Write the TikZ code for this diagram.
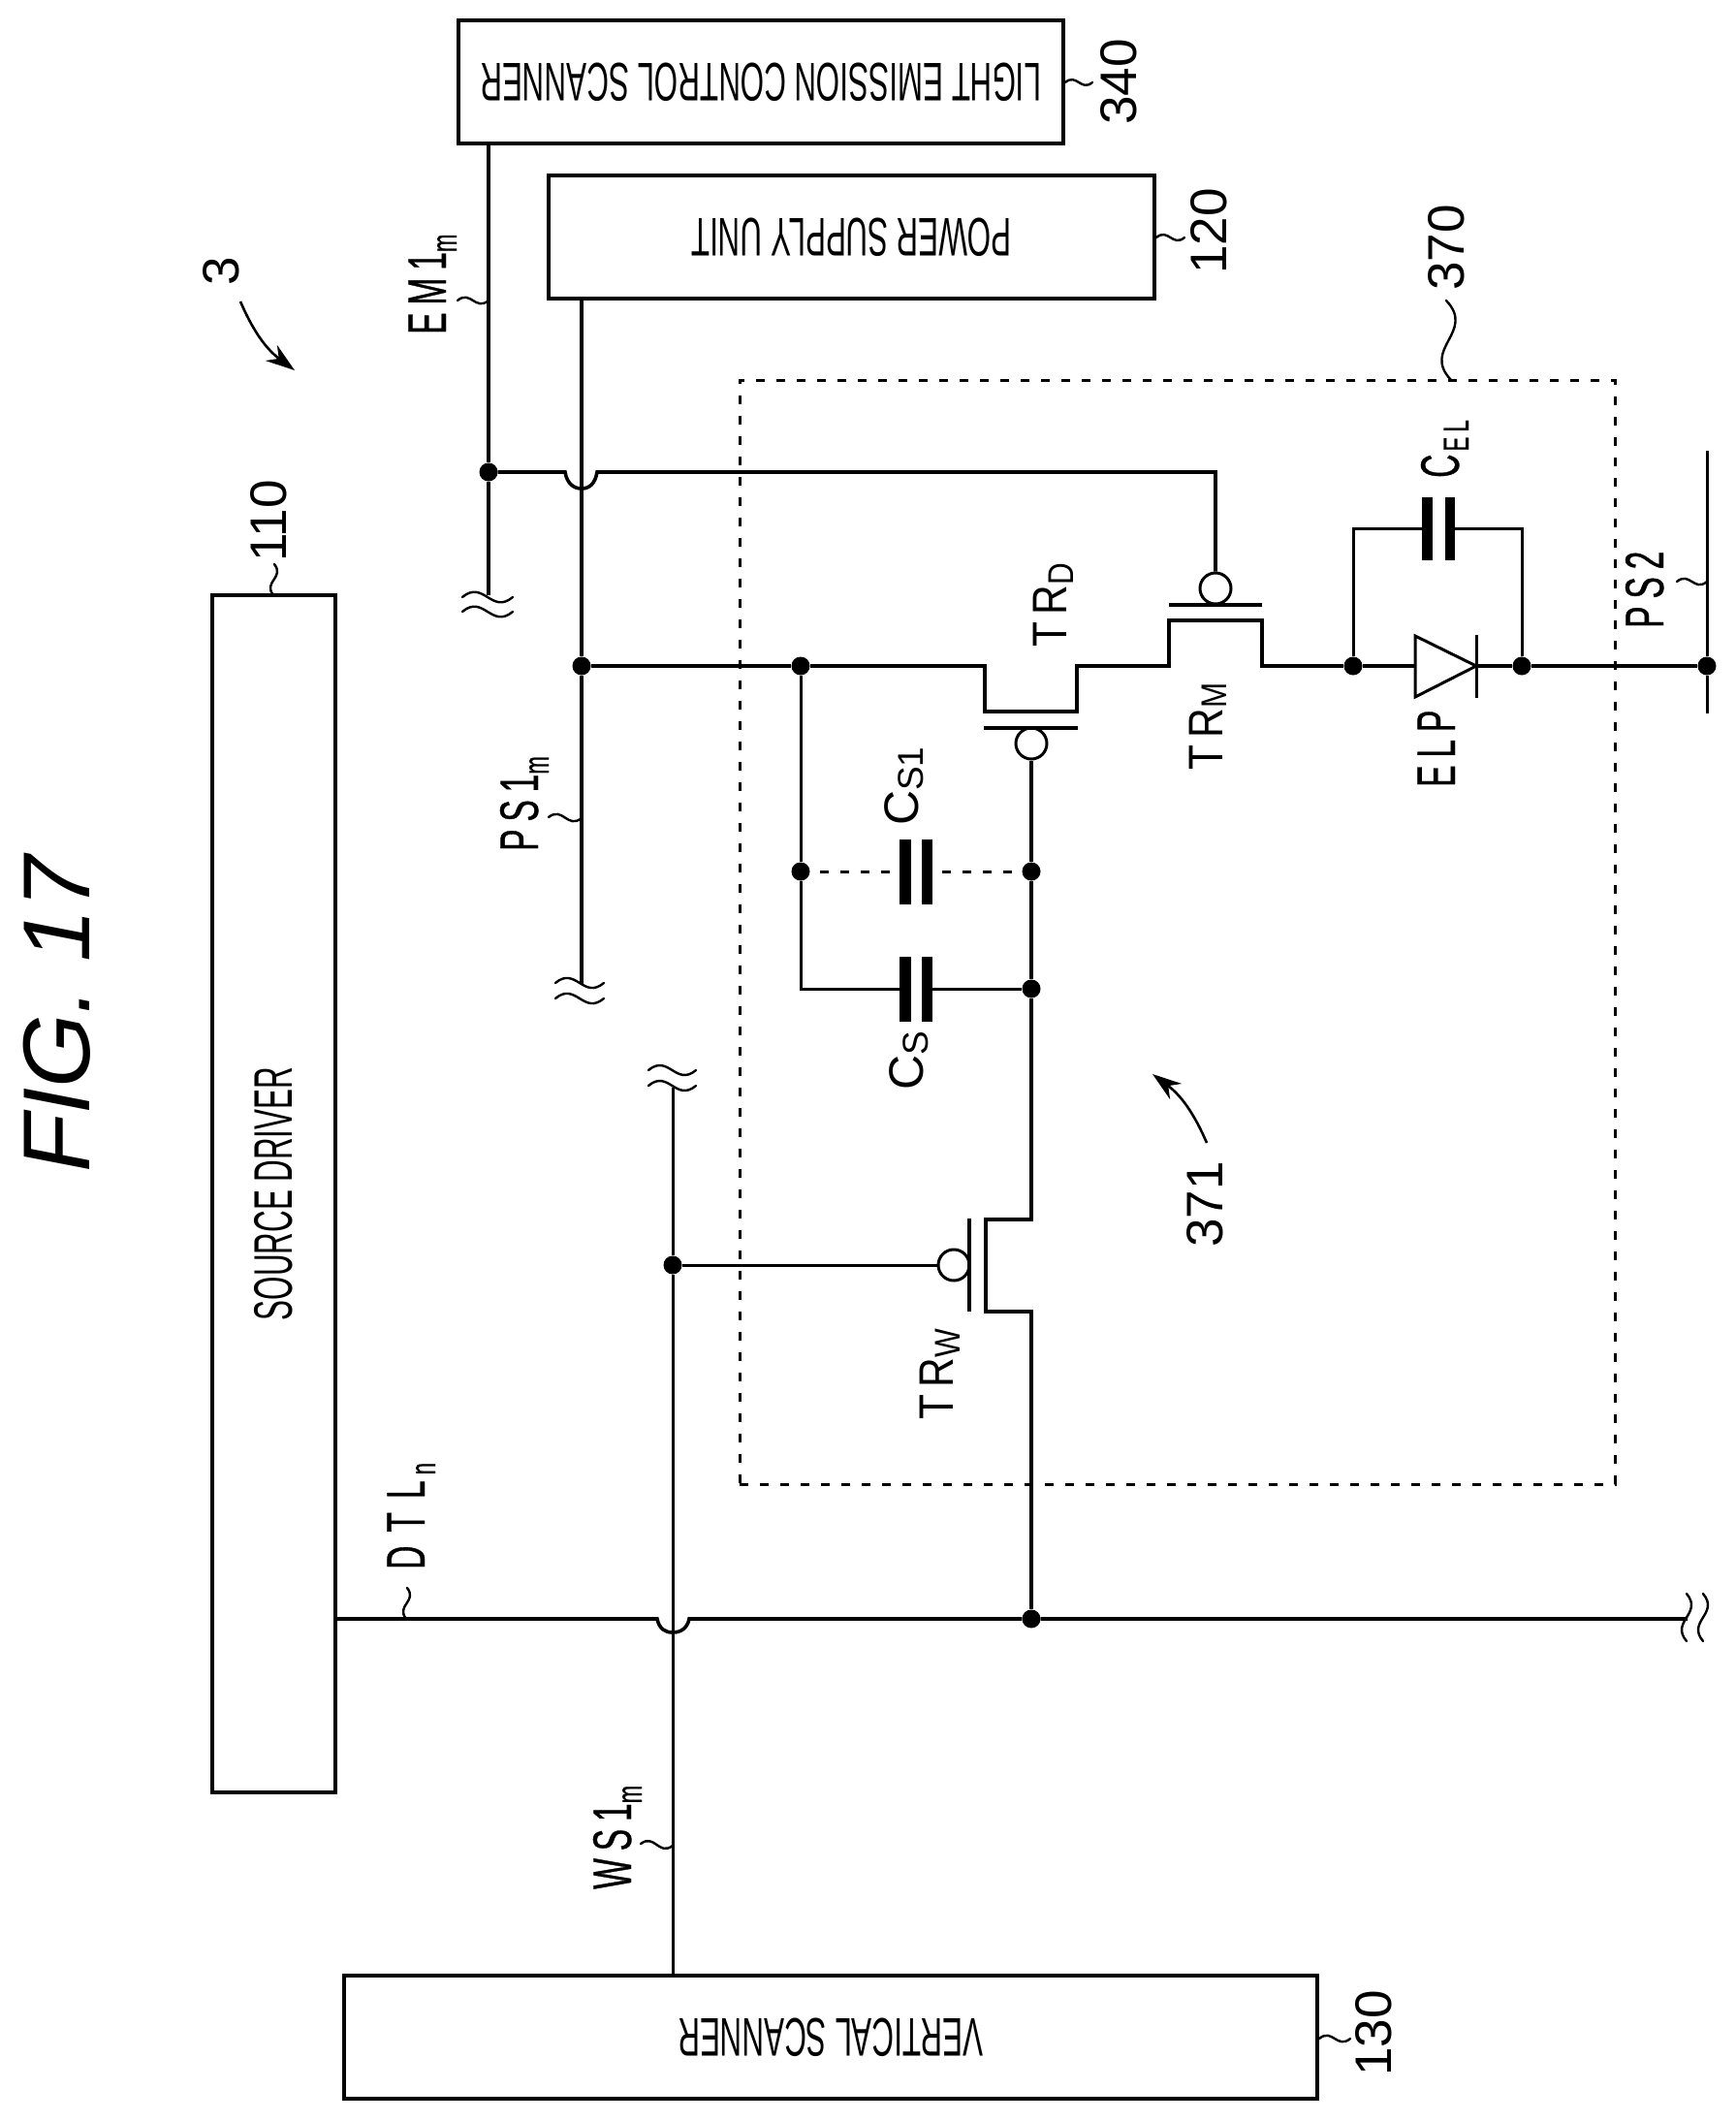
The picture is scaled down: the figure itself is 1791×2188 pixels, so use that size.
\documentclass[tikz,border=0pt]{standalone}
\usepackage{fontspec}
\setmainfont{Liberation Sans}
\newfontfamily\narrowfont[FakeStretch=0.6,LetterSpace=14,FakeBold=0.6]{Liberation Sans}
\newfontfamily\blockfont[FakeStretch=0.56]{Liberation Sans}
\newfontfamily\trfont[FakeStretch=0.85,LetterSpace=15]{Liberation Sans}
\usetikzlibrary{arrows.meta,calc}
\newcommand{\sublbl}[2]{\raisebox{-#1pt}{\fontsize{37}{37}\selectfont #2}}

\begin{document}
\begin{tikzpicture}[x=1pt,y=-1pt,
block/.style={rectangle, draw=black, line width=4pt, inner sep=0pt, font=\blockfont\fontsize{56}{56}\selectfont},
wire/.style={line width=3.6pt, line join=miter},
thinwire/.style={line width=3pt},
dot/.style={circle, fill=black, inner sep=0pt, minimum size=19pt},
bubble/.style={circle, draw=black, fill=white, line width=3pt, inner sep=0pt, minimum size=32pt},
plate/.style={rectangle, fill=black, inner sep=0pt},
leader/.style={line width=2.4pt, line cap=round},
squig/.style={to path={.. controls ($(\tikztostart)!0.55!#1:(\tikztotarget)$) and ($(\tikztotarget)!0.55!#1:(\tikztostart)$) .. (\tikztotarget)}},
squig/.default=40,
numlabel/.style={rotate=90, anchor=base west, inner sep=0pt, font=\fontsize{53}{53}\selectfont},
siglabel/.style={rotate=90, anchor=base west, inner sep=0pt, font=\narrowfont\fontsize{56}{56}\selectfont},
trlabel/.style={rotate=90, anchor=base west, inner sep=0pt, font=\trfont\fontsize{50}{50}\selectfont},
pointer/.style={line width=2.6pt, -{Stealth[length=30pt,width=20pt]}},
]
\useasboundingbox (0,0) rectangle (1791,2188);

% blocks
\node[block, rotate=180, minimum width=624pt, minimum height=127pt](lightbox) at (785,84.5){LIGHT EMISSION CONTROL SCANNER};
\node[block, rotate=180, minimum width=625pt, minimum height=127pt](powerbox) at (878.5,244.5){POWER SUPPLY UNIT};
\node[block, rotate=90, minimum width=1235pt, minimum height=127pt](sourcebox) at (282.5,1231.5){SOURCE DRIVER};
\node[block, rotate=180, minimum width=1004pt, minimum height=127pt](vertbox) at (857,2101.5){VERTICAL SCANNER};

% pixel circuit frame
\node[rectangle, draw=black, line width=3pt, dash pattern=on 9pt off 12pt, inner sep=0pt, minimum width=903pt, minimum height=1139pt](cellbox) at (1214.5,961.5){};

% junctions
\node[dot](emjoin) at (504,487){};
\node[dot](psjoin) at (600,687){};
\node[dot](csjoin) at (826,687){};
\node[dot](csoneleft) at (826,899){};
\node[dot](csoneright) at (1064,899){};
\node[dot](csright) at (1064,1020){};
\node[dot](elpleft) at (1396,687){};
\node[dot](elpright) at (1570,687){};
\node[dot](pstwojoin) at (1761,687){};
\node[dot](wsjoin) at (694,1305){};
\node[dot](dtljoin) at (1064,1670){};

% gate bubbles
\node[bubble](gated) at (1064,767){};
\node[bubble](gatem) at (1254,607){};
\node[bubble](gatew) at (984,1305){};

% capacitor plates
\node[plate, minimum width=12pt, minimum height=67pt](csonea) at (934,899){};
\node[plate, minimum width=11pt, minimum height=67pt](csoneb) at (956.5,899){};
\node[plate, minimum width=12pt, minimum height=67pt](csa) at (934,1020){};
\node[plate, minimum width=11pt, minimum height=67pt](csb) at (956.5,1020){};
\node[plate, minimum width=11pt, minimum height=65pt](cela) at (1472.5,545.5){};
\node[plate, minimum width=10pt, minimum height=65pt](celb) at (1496,545.5){};

% diode ends and line ends
\coordinate (anode) at (1460,687);
\coordinate (cathode) at (1523,687);
\coordinate (emend) at (504,614);
\coordinate (psend) at (600,1015);
\coordinate (wsend) at (694,1122);
\coordinate (dtlend) at (1741,1670);

% power and emission lines
\draw[wire] (lightbox.north -| emjoin) -- (emjoin) -- (emend);
\draw[wire] (powerbox.north -| psjoin) -- (psjoin) -- (psend);
\draw[wire] (emjoin) -- (583,487) .. controls (585,499) and (592,504) .. (600,504) .. controls (608,504) and (614,499) .. (616,487) -| (gatem.north);

% main current path
\draw[wire] (psjoin) -- (csjoin) -- (1016,687) -- (1016,734) -- (1111,734) -- (1111,687) -- (1206,687) -- (1206,640) -- (1302,640) -- (1302,687) -- (elpleft) -- (anode);
\draw[wire] (cathode) -- (elpright) -- (pstwojoin);
\draw[wire] (1015,751) -- (1112,751);
\draw[wire] (1206,624) -- (1302,624);

% light emitting element
\draw[thinwire, line join=miter] (anode) -- (1460,656) -- (cathode) -- (1460,719) -- cycle;
\draw[thinwire] (1523,655) -- (1523,720);
\draw[thinwire] (elpleft) |- (cela.west);
\draw[thinwire] (elpright) |- (celb.east);
\draw[thinwire] (1761,465) -- (pstwojoin) -- (1761,736);

% storage capacitors
\draw[thinwire] (csjoin) -- (csoneleft) |- (csa.west);
\draw[thinwire] (csb.east) -- (csright);
\draw[thinwire, dash pattern=on 9pt off 12pt] (csoneleft.east) ++(10,0) -- (csonea.west);
\draw[thinwire, dash pattern=on 9pt off 12pt] (csoneb.east) ++(10,0) -- (csoneright.west);
\draw[wire] (gated.south) -- (csoneright) -- (csright) -- (1064,1258) -- (1017,1258) -- (1017,1353) -- (1064,1353) -- (dtljoin);
\draw[wire] (1000,1257) -- (1000,1353);

% data and write lines
\draw[wire] (sourcebox.south |- dtljoin) -- (678,1670) .. controls (680,1680) and (686,1684) .. (694,1684) .. controls (702,1684) and (709,1680) .. (711,1670) -- (dtljoin) -- (dtlend);
\draw[thinwire] (vertbox.south -| wsjoin) -- (wsjoin) -- (wsend);
\draw[thinwire] (wsjoin) -- (gatew.west);

% line breaks
\draw[leader] (477,616) to[squig] (529,616);
\draw[leader] (477,631) to[squig] (529,631);
\draw[leader] (573,1014) to[squig] (623,1014);
\draw[leader] (573,1030) to[squig] (623,1030);
\draw[leader] (669,1104) to[squig] (718,1104);
\draw[leader] (669,1120) to[squig] (718,1120);
\draw[leader] (1740,1644) to[squig] (1740,1693);
\draw[leader] (1757,1644) to[squig] (1757,1693);

% leaders
\draw[leader] (lightbox.west |- 0,85) to[squig] (1127,85);
\draw[leader] (powerbox.west |- 0,245) to[squig] (1222,245);
\draw[leader] (282,614) to[squig] (283,582);
\draw[leader] (1497,392) to[squig] (1492,310);
\draw[leader] (472,310) to[squig] (504,310);
\draw[leader] (566,843) to[squig] (600,844);
\draw[leader] (1730,600) to[squig] (1761,600);
\draw[leader] (419,1670) to[squig] (420,1638);
\draw[leader] (661,1902) to[squig] (694,1904);
\draw[leader] (vertbox.west |- 0,2103) to[squig] (1393,2103);

% reference arrows
\coordinate (devstart) at (248,311);
\coordinate (devtip) at (304,382);
\coordinate (pixstart) at (1245,1179);
\coordinate (pixtip) at (1189,1108);
\draw[pointer] (devstart) to[bend right=15] (devtip);
\draw[pointer] (pixstart) to[bend right=15] (pixtip);

% labels
\node[numlabel](nlight) at (1172,129){340};
\node[numlabel](npower) at (1265,283){120};
\node[numlabel](nsource) at (295,580){110};
\node[numlabel](ncell) at (1510,300){370};
\node[numlabel](npixel) at (1261,1287){371};
\node[numlabel](nvert) at (1435,2142){130};
\node[numlabel](ndev) at (246,295){3};
\node[rotate=90, anchor=base west, inner sep=0pt, font=\itshape\fontsize{98}{98}\selectfont](figlabel) at (92,1210){FIG. 17};

\node[siglabel](lem) at (460,345){EM1\sublbl{11}{m}};
\node[siglabel](lps) at (555,878){PS1\sublbl{11}{m}};
\node[siglabel](lws) at (651,1949){WS1\sublbl{11}{m}};
\node[siglabel](ldtl) at (438,1619){D\kern14pt T\kern14pt L\kern6pt\sublbl{11}{n}};
\node[siglabel](lpstwo) at (1716,648){PS2};
\node[siglabel](lelp) at (1501,812){ELP};
\node[siglabel](lcel) at (1505,493){C\kern3pt\sublbl{10}{EL}};

\node[trlabel](ltrd) at (1100,668){TR\sublbl{7}{D}};
\node[trlabel](ltrm) at (1261,795){TR\sublbl{4}{M}};
\node[trlabel](ltrw) at (983,1465){TR\sublbl{7}{W}};
\node[trlabel, font=\fontsize{50}{50}\selectfont](lcs) at (952,1125){C\sublbl{5}{S}};
\node[trlabel, font=\fontsize{50}{50}\selectfont](lcsone) at (947,852){C\sublbl{5}{S1}};

\end{tikzpicture}
\end{document}
